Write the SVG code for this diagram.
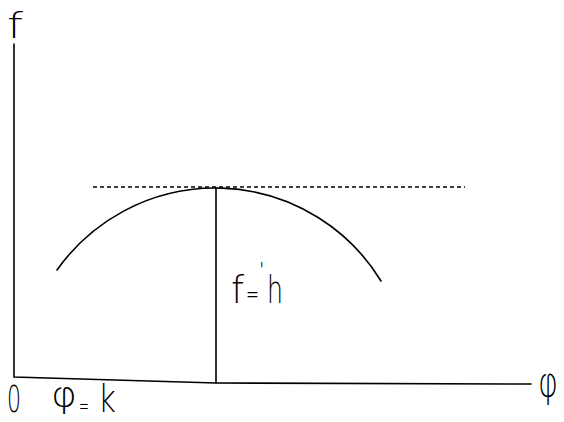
<svg xmlns="http://www.w3.org/2000/svg" width="564" height="422" viewBox="0 0 564 422">
<style>
.ln{stroke:#000;stroke-width:1.6;fill:none;stroke-linecap:round}
.ds{stroke:#000;stroke-width:1.3;fill:none;stroke-dasharray:4 3}
.t{font-family:"DejaVu Sans","Liberation Sans",sans-serif;font-weight:200;fill:#000}
</style>
<rect width="564" height="422" fill="#fff"/>
<g id="connectors">
<path class="ln" d="M14,44 L14,377 L216,383 L531,384"/>
<path class="ln" d="M216,188 L216,383"/>
<path class="ds" d="M93,187 L465,187"/>
<path class="ln" d="M57,270 A194,194 0 0 1 381,281"/>
</g>
<g id="labels">
<text class="t" x="7" y="38" font-size="36" textLength="16" lengthAdjust="spacingAndGlyphs">f</text>
<text class="t" x="231" y="303" font-size="37" textLength="13" lengthAdjust="spacingAndGlyphs">f</text>
<text class="t" x="246" y="303" font-size="26" textLength="13" lengthAdjust="spacingAndGlyphs">=</text>
<text class="t" x="259" y="276" font-size="20">'</text>
<text class="t" x="267" y="303" font-size="37" textLength="16" lengthAdjust="spacingAndGlyphs">h</text>
<text class="t" x="7" y="412" font-size="37" textLength="14" lengthAdjust="spacingAndGlyphs">0</text>
<text class="t" x="51" y="407" font-size="36" textLength="26" lengthAdjust="spacingAndGlyphs">φ</text>
<text class="t" x="79" y="414" font-size="24" textLength="10" lengthAdjust="spacingAndGlyphs">=</text>
<text class="t" x="98" y="412" font-size="37" textLength="18" lengthAdjust="spacingAndGlyphs">k</text>
<text class="t" x="538" y="396" font-size="40" textLength="20" lengthAdjust="spacingAndGlyphs">φ</text>
</g>
</svg>
